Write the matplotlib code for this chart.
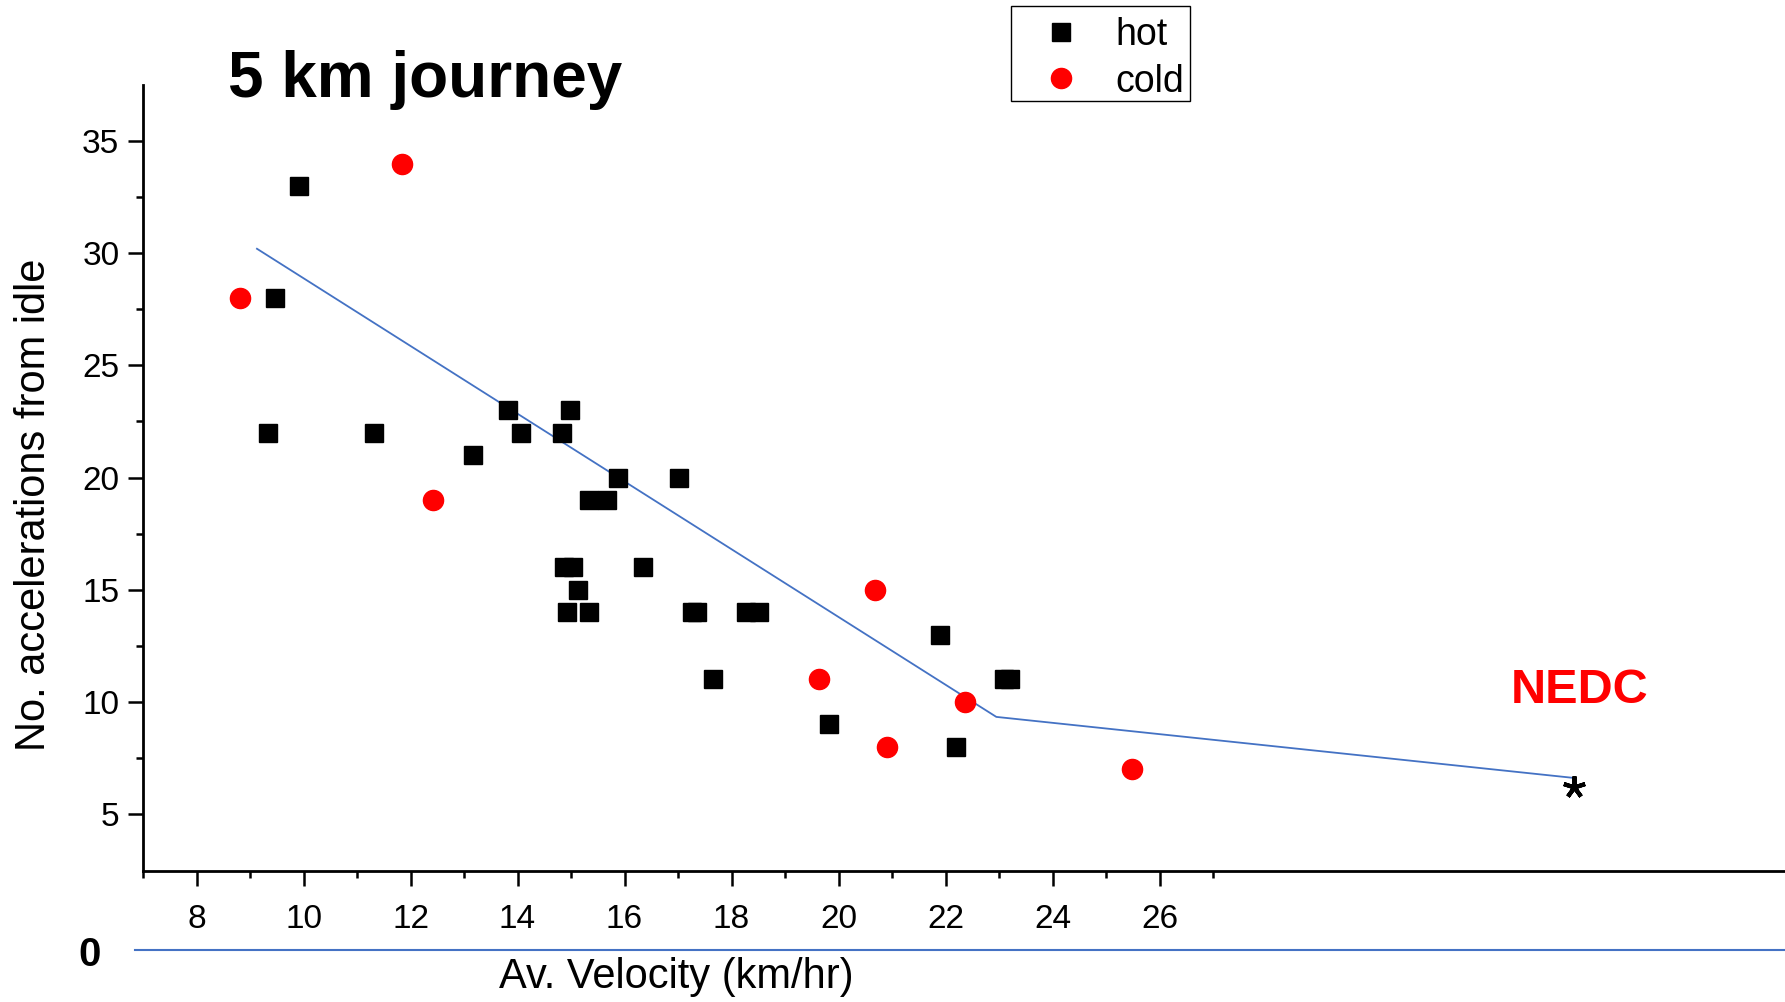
import matplotlib
matplotlib.use('Agg')
import matplotlib.pyplot as plt
from matplotlib.lines import Line2D
from matplotlib.patches import Rectangle
import numpy as np

plt.rcParams['font.family'] = ['Liberation Sans', 'DejaVu Sans']

# hot starts
hot_v = [9.91, 9.46, 9.34, 11.32, 13.17, 13.83, 14.07, 14.84, 14.99, 15.87,
         17.01, 15.33, 15.68, 14.86, 15.04, 16.34, 15.14, 14.92, 15.33, 17.27,
         17.35, 18.28, 18.51, 17.65, 19.83, 21.90, 22.19, 23.10, 23.20]
hot_n = [33, 28, 22, 22, 21, 23, 22, 22, 23, 20,
         20, 19, 19, 16, 16, 16, 15, 14, 14, 14,
         14, 14, 14, 11, 9, 13, 8, 11, 11]

# cold starts
cold_v = [8.82, 11.85, 12.42, 20.69, 19.64, 20.90, 22.36, 25.49]
cold_n = [28, 34, 19, 15, 11, 8, 10, 7]

# trend line and NEDC point
trend_v = [9.13, 22.95, 33.74]
trend_n = [30.2, 9.33, 6.61]
nedc_v, nedc_n = 33.74, 6.2

x_major = [8, 10, 12, 14, 16, 18, 20, 22, 24, 26]
y_major = [5, 10, 15, 20, 25, 30, 35]

fig = plt.figure(figsize=(17.85, 10.02), dpi=100)
ax = fig.add_axes([143 / 1785, 1 - 871 / 1002, 1 - 143 / 1785, (871 - 85) / 1002])

ax.plot(trend_v, trend_n, color='#4472C4', lw=1.3, zorder=2)
ax.plot(hot_v, hot_n, 's', color='black', ms=13, ls='none', label='hot', zorder=3)
ax.plot(cold_v, cold_n, 'o', color='red', ms=14.5, ls='none', label='cold', zorder=3)
ax.plot([nedc_v], [nedc_n], marker=(5, 2, 0), color='black', ms=16, mew=3, ls='none', zorder=4)
ax.text(33.86, 10.5, 'NEDC', color='red', fontsize=35, fontweight='bold',
        ha='center', va='center')

ax.set_xlim(7, 7 + (1785 - 143) / 53.5)
ax.set_ylim(2.46, 37.5)

ax.set_xticks(x_major)
ax.set_xticks(np.arange(7, 28, 2), minor=True)
ax.set_yticks(y_major)
ax.set_yticks(np.arange(7.5, 35, 5), minor=True)
ax.tick_params(axis='both', which='major', length=11, width=1.8, labelsize=24, direction='out')
ax.tick_params(axis='both', which='minor', length=5, width=1.8, direction='out')
ax.tick_params(axis='x', pad=13)
ax.tick_params(axis='y', pad=6)

for side in ['top', 'right']:
    ax.spines[side].set_visible(False)
for side in ['left', 'bottom']:
    ax.spines[side].set_linewidth(2)

fig.text(34 / 1785, 1 - 505 / 1002, 'No. accelerations from idle', rotation=90,
         fontsize=30, ha='center', va='center')
fig.text(676 / 1785, 1 - 977 / 1002, 'Av. Velocity (km/hr)', fontsize=30,
         ha='center', va='center')
fig.text(228 / 1785, 1 - 97 / 1002, '5 km journey', fontsize=46, fontweight='bold',
         ha='left', va='baseline')

# stray zero and baseline under the axis
fig.text(90 / 1785, 1 - 955 / 1002, '0', fontsize=29, fontweight='bold',
         ha='center', va='center')
fig.add_artist(Line2D([135 / 1785, 1.0], [1 - 950 / 1002, 1 - 950 / 1002],
                      transform=fig.transFigure, color='#4472C4', lw=1.5))

# legend: entries without frame, box drawn separately
fig.legend(loc='upper left', bbox_to_anchor=(1017 / 1785, 1 - 11 / 1002),
           fontsize=27, frameon=False, borderaxespad=0,
           handlelength=2.06, handletextpad=0.42, labelspacing=0.29,
           borderpad=0.15)
fig.add_artist(Rectangle((1011 / 1785, 1 - 101 / 1002), 179 / 1785, 95 / 1002,
                         transform=fig.transFigure, fill=False,
                         edgecolor='black', lw=1))

fig.savefig('out.png', dpi=100)
